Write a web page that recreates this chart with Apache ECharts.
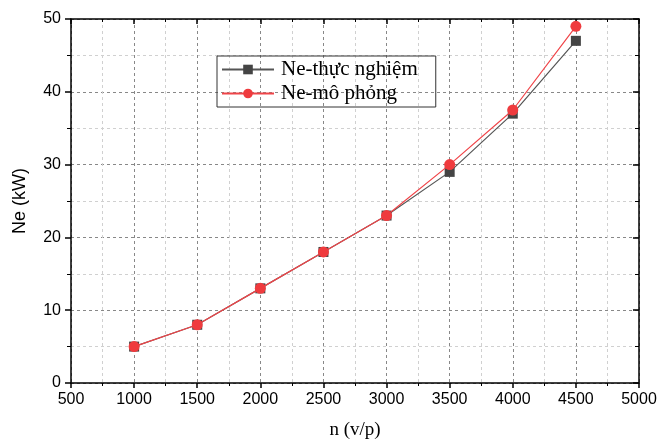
<!DOCTYPE html>
<html><head><meta charset="utf-8">
<script src="https://cdn.jsdelivr.net/npm/echarts@6/dist/echarts.min.js"></script>
<style>html,body{margin:0;padding:0;background:#fff}#c{width:662px;height:441px}</style>
</head><body><div id="c"></div>
<script>
const categories = [1000, 1500, 2000, 2500, 3000, 3500, 4000, 4500];
const thucNghiem = [5, 8, 13, 18, 23, 29, 37, 47];
const moPhong = [5, 8, 13, 18, 23, 30, 37.5, 49];
const seriesNames = ['Ne-thực nghiệm', 'Ne-mô phỏng'];

const chart = echarts.init(document.getElementById('c'));
const pair = (xs, ys) => xs.map((x, i) => [x, ys[i]]);
const sans = 'Liberation Sans';
const serif = 'Liberation Serif';
const plain = v => String(v);
chart.setOption({
  animation: false,
  grid: {left: 71, right: 23, top: 19, bottom: 58, containLabel: false, outerBoundsMode: 'none'},
  legend: {
    orient: 'vertical', left: 217, top: 56,
    borderColor: '#333', borderWidth: 1, padding: [3, 18, 3, 4],
    itemWidth: 52, itemHeight: 12, itemGap: 3,
    textStyle: {fontFamily: serif, fontSize: 21, color: '#000', padding: [0, 0, 0, 2]},
    data: seriesNames
  },
  xAxis: [{
    type: 'value', min: 500, max: 5000, interval: 500, position: 'bottom',
    name: 'n (v/p)', nameLocation: 'middle', nameGap: 38,
    nameTextStyle: {fontFamily: serif, fontSize: 19, color: '#000'},
    axisLine: {onZero: false, lineStyle: {color: '#000', width: 1.5}},
    axisTick: {inside: false, length: 5, lineStyle: {color: '#000', width: 1.5}},
    minorTick: {show: true, splitNumber: 2, length: 3, lineStyle: {color: '#000'}},
    axisLabel: {fontFamily: sans, fontSize: 16, color: '#000', margin: 9, formatter: plain},
    splitLine: {show: true, lineStyle: {color: '#888', type: [3, 3], width: 1}},
    minorSplitLine: {show: true, lineStyle: {color: '#d0d0d0', type: [3, 3], width: 1}}
  }, {
    type: 'value', min: 500, max: 5000, interval: 500, position: 'top',
    axisLine: {onZero: false, lineStyle: {color: '#000', width: 1.5}},
    axisTick: {inside: true, length: 5, lineStyle: {color: '#000', width: 1.5}},
    minorTick: {show: true, splitNumber: 2, length: 3, lineStyle: {color: '#000'}},
    axisLabel: {show: false}, splitLine: {show: false}
  }],
  yAxis: [{
    type: 'value', min: 0, max: 50, interval: 10, position: 'left',
    name: 'Ne (kW)', nameLocation: 'middle', nameGap: 42, nameRotate: 90,
    nameTextStyle: {fontFamily: sans, fontSize: 18, color: '#000'},
    axisLine: {show: true, onZero: false, lineStyle: {color: '#000', width: 1.5}},
    axisTick: {show: true, inside: false, length: 6, lineStyle: {color: '#000', width: 1.5}},
    minorTick: {show: true, splitNumber: 2, length: 4, lineStyle: {color: '#000'}},
    axisLabel: {fontFamily: sans, fontSize: 16, color: '#000', margin: 10, formatter: plain},
    splitLine: {show: true, lineStyle: {color: '#888', type: [3, 3], width: 1}},
    minorSplitLine: {show: true, lineStyle: {color: '#d0d0d0', type: [3, 3], width: 1}}
  }, {
    type: 'value', min: 0, max: 50, interval: 10, position: 'right',
    axisLine: {show: true, onZero: false, lineStyle: {color: '#000', width: 1.5}},
    axisTick: {show: true, inside: true, length: 6, lineStyle: {color: '#000', width: 1.5}},
    minorTick: {show: true, splitNumber: 2, length: 4, lineStyle: {color: '#000'}},
    axisLabel: {show: false}, splitLine: {show: false}
  }],
  series: [{
    name: seriesNames[0], type: 'line', data: pair(categories, thucNghiem),
    symbol: 'rect', symbolSize: 10,
    itemStyle: {color: '#444'}, lineStyle: {color: '#555', width: 1.2}, z: 2
  }, {
    name: seriesNames[1], type: 'line', data: pair(categories, moPhong),
    symbol: 'circle', symbolSize: 11,
    itemStyle: {color: '#ef3b3e'}, lineStyle: {color: '#f04448', width: 1.2}, z: 3
  }]
});
</script></body></html>
